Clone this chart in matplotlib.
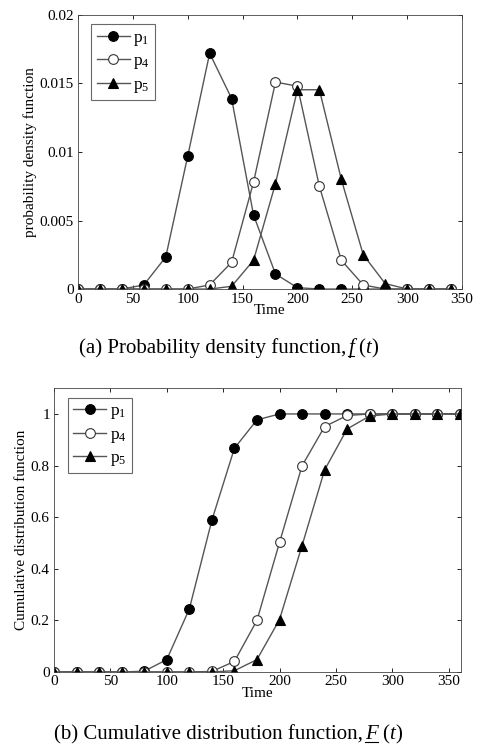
import numpy as np
import matplotlib
matplotlib.use("Agg")
import matplotlib.pyplot as plt
from matplotlib.lines import Line2D

plt.rcParams['font.family'] = ['Liberation Serif', 'DejaVu Serif']
plt.rcParams['mathtext.fontset'] = 'custom'
plt.rcParams['mathtext.rm'] = 'Liberation Serif'
plt.rcParams['mathtext.it'] = 'Liberation Serif:italic'

# ---- data ----
time_pdf = [0, 20, 40, 60, 80, 100, 120, 140, 160, 180, 200, 220, 240, 260, 280, 300, 320, 340]
pdf_p1 = [0, 0, 0, 0.0003, 0.00234, 0.0097, 0.0172, 0.0139, 0.0054, 0.0011, 0.0001, 0, 0, 0, 0, 0, 0, 0]
pdf_p4 = [0, 0, 0, 0, 0, 0, 0.0003, 0.00195, 0.0078, 0.0151, 0.0148, 0.0075, 0.0021, 0.0003, 0, 0, 0, 0]
pdf_p5 = [0, 0, 0, 0, 0, 0, 0, 0.0002, 0.0021, 0.0077, 0.01454, 0.01454, 0.0080, 0.0025, 0.0004, 0, 0, 0]

time_cdf = [0, 20, 40, 60, 80, 100, 120, 140, 160, 180, 200, 220, 240, 260, 280, 300, 320, 340, 360]
cdf_p1 = [0, 0, 0, 0, 0.003, 0.048, 0.244, 0.588, 0.867, 0.977, 1, 1, 1, 1, 1, 1, 1, 1, 1]
cdf_p4 = [0, 0, 0, 0, 0, 0, 0, 0.002, 0.041, 0.200, 0.502, 0.799, 0.951, 0.994, 1, 1, 1, 1, 1]
cdf_p5 = [0, 0, 0, 0, 0, 0, 0, 0, 0.005, 0.048, 0.203, 0.490, 0.783, 0.942, 0.992, 1, 1, 1, 1]

labels = [r'$\mathrm{p}_1$', r'$\mathrm{p}_4$', r'$\mathrm{p}_5$']
pdf_ticks = [0, 0.005, 0.01, 0.015, 0.02]
pdf_ticklabels = ['0', '0.005', '0.01', '0.015', '0.02']
cdf_ticks = [0, 0.2, 0.4, 0.6, 0.8, 1]
cdf_ticklabels = ['0', '0.2', '0.4', '0.6', '0.8', '1']
x_ticks = [0, 50, 100, 150, 200, 250, 300, 350]

fig = plt.figure(figsize=(4.8, 7.45), dpi=100)

line_color = '#555555'
styles = [dict(marker='o', mfc='black', mec='black'),
          dict(marker='o', mfc='white', mec='#333333'),
          dict(marker='^', mfc='black', mec='black')]

def draw(ax, x, series, xlim, ylim, yticks, yticklabels, ylabel):
    for s, lab, st in zip(series, labels, styles):
        ax.plot(x, s, color=line_color, lw=1.0, ms=7.0, mew=0.8, label=lab, **st)
    ax.set_xlim(*xlim)
    ax.set_ylim(*ylim)
    ax.set_xticks(x_ticks)
    ax.set_xticklabels([str(t) for t in x_ticks])
    ax.set_yticks(yticks)
    ax.set_yticklabels(yticklabels)
    ax.tick_params(direction='in', top=True, right=True, labelsize=11, length=3, width=0.6)
    ax.tick_params(axis='x', pad=2.5)
    ax.tick_params(axis='y', pad=3)
    for sp in ax.spines.values():
        sp.set_linewidth(0.6)
        sp.set_color('#444444')
    ax.set_xlabel('Time', fontsize=11, labelpad=-1)
    ax.set_ylabel(ylabel, fontsize=11, labelpad=2)
    leg = ax.legend(loc='upper left', bbox_to_anchor=(0.035, 0.965), fontsize=12.5,
                    frameon=True, fancybox=False, edgecolor='#444444',
                    handlelength=1.9, handletextpad=0.2, borderpad=0.3,
                    labelspacing=0.3, borderaxespad=0)
    leg.get_frame().set_linewidth(0.8)

ax1 = fig.add_axes([0.1625, 0.612, 0.8, 0.368])
draw(ax1, time_pdf, [pdf_p1, pdf_p4, pdf_p5], (0, 350), (0, 0.02),
     pdf_ticks, pdf_ticklabels, 'probability density function')

ax2 = fig.add_axes([0.1125, 0.098, 0.848, 0.381])
draw(ax2, time_cdf, [cdf_p1, cdf_p4, cdf_p5], (0, 361), (0, 1.1),
     cdf_ticks, cdf_ticklabels, 'Cumulative distribution function')

fig.canvas.draw()
renderer = fig.canvas.get_renderer()

def caption(prefix, letter, x_left, y, fs=15):
    t1 = fig.text(x_left, y, prefix, fontsize=fs, ha='left', va='baseline')
    fig.canvas.draw()
    bb1 = t1.get_window_extent(renderer)
    xf = bb1.x1 / fig.bbox.width
    t2 = fig.text(xf + 0.004, y, letter, fontsize=fs, ha='left', va='baseline', style='italic')
    fig.canvas.draw()
    bb2 = t2.get_window_extent(renderer)
    x2 = bb2.x1 / fig.bbox.width
    t3 = fig.text(x2 + 0.008, y, '(', fontsize=fs, ha='left', va='baseline')
    fig.canvas.draw()
    bb3 = t3.get_window_extent(renderer)
    t4 = fig.text(bb3.x1 / fig.bbox.width, y, 't', fontsize=fs, ha='left', va='baseline', style='italic')
    fig.canvas.draw()
    bb4 = t4.get_window_extent(renderer)
    fig.text(bb4.x1 / fig.bbox.width + 0.002, y, ')', fontsize=fs, ha='left', va='baseline')
    uy = y - 3.0 / fig.bbox.height
    fig.add_artist(Line2D([bb2.x0 / fig.bbox.width, bb2.x1 / fig.bbox.width], [uy, uy],
                          transform=fig.transFigure, color='black', lw=0.8))

caption('(a) Probability density function,', 'f', 0.165, 0.526)
caption('(b) Cumulative distribution function,', 'F', 0.113, 0.008)

fig.savefig('out.png', dpi=100)
